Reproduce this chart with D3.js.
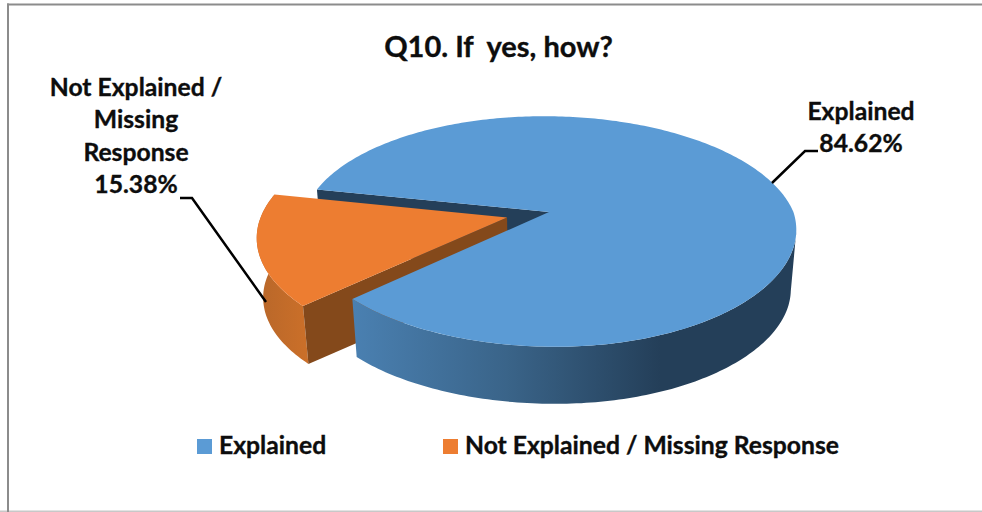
<!DOCTYPE html>
<html><head><meta charset="utf-8">
<script src="https://cdn.jsdelivr.net/npm/d3@7"></script>
<style>
html,body{margin:0;padding:0;background:#fff}
svg{display:block}
text{font-family:Lato,"Open Sans",sans-serif;font-weight:700;fill:#0d0d0d;stroke:#0d0d0d;stroke-width:0.35px;white-space:pre}
</style></head><body>
<svg id="c" width="982" height="512"></svg>
<script>
const categories = ["Explained", "Not Explained / Missing Response"];
const values = [84.62, 15.38];
const valueLabels = ["84.62%", "15.38%"];
const colors = ["#5b9bd5", "#ed7d31"];
const titleText = "Q10. If  yes, how?";

const W = 982, H = 512;
const svg = d3.select("#c");
const defs = svg.append("defs");
const deg = Math.PI / 180;

// frame
svg.append("rect").attr("x",0).attr("y",510.5).attr("width",W).attr("height",1.5).attr("fill","#c8c8c8");
svg.append("rect").attr("x",7).attr("y",3.5).attr("width",W-7).attr("height",2).attr("fill","#8c8c8c");
svg.append("rect").attr("x",7).attr("y",3.5).attr("width",2).attr("height",H-3.5).attr("fill","#8c8c8c");

// pie geometry, in a perspective projection of a tilted disc
const cx = 549, cy = 212, R = 244.4, RK = 112, P = 0.169, shear = 0.05, skew = 10;
const lowerScale = 0.978, lowerY = 60, explodeBy = 0.178;
const pie = d3.pie().sort(null).startAngle(282*deg).endAngle((282+360)*deg);
const arcs = pie(values);

function project(u, v, lower) {
  const s = 1 / (1 - P * v), k = lower ? lowerScale : 1;
  const dy = RK * k * v * s;
  return [cx + R * k * u * s + shear * dy - skew * Math.max(u, 0) * Math.max(v, 0),
          cy + (lower ? lowerY : 0) + dy];
}
function rimPoint(th, off, lower) {
  return project(Math.sin(th) + off[0], -Math.cos(th) + off[1], lower);
}
function offsetOf(a, amount) {
  const m = (a.startAngle + a.endAngle) / 2;
  return [Math.sin(m) * amount, -Math.cos(m) * amount];
}
const line = d3.line();
function sample(a0, a1) {
  const n = Math.max(8, Math.ceil(Math.abs(a1 - a0) / deg));
  return d3.range(n + 1).map(i => a0 + (a1 - a0) * i / n);
}
function topPath(a, off) {
  const pts = [project(off[0], off[1], false)].concat(sample(a.startAngle, a.endAngle).map(t => rimPoint(t, off, false)));
  return line(pts) + "Z";
}
function sidePath(a0, a1, off) {
  const s = sample(a0, a1);
  const pts = s.map(t => rimPoint(t, off, false)).concat(s.slice().reverse().map(t => rimPoint(t, off, true)));
  return line(pts) + "Z";
}
function wallPath(th, off) {
  const pts = [project(off[0], off[1], false), rimPoint(th, off, false), rimPoint(th, off, true), project(off[0], off[1], true)];
  return line(pts) + "Z";
}
function grad(id, x1, x2, stops) {
  const g = defs.append("linearGradient").attr("id", id).attr("gradientUnits","userSpaceOnUse")
    .attr("x1", x1).attr("x2", x2).attr("y1", 0).attr("y2", 0);
  stops.forEach(s => g.append("stop").attr("offset", s[0]).attr("stop-color", s[1]));
}
grad("blueSide", 353, 660, [[0,"#4a80b1"],[0.5,"#3a6489"],[1,"#243f59"]]);
grad("orangeSide", 258, 310, [[0,"#b8672a"],[1,"#cc7029"]]);

const blue = arcs[0], orange = arcs[1];
const none = [0, 0], orangeOff = offsetOf(orange, explodeBy);
const silhouetteAngle = Math.acos(-P);
const g = svg.append("g");

// back wall of the blue slice
g.append("path").attr("d", wallPath(blue.startAngle, none)).attr("fill", "#243f59");
// orange slice
g.append("path").attr("d", sidePath(orange.startAngle, orange.endAngle, orangeOff)).attr("fill", "url(#orangeSide)");
g.append("path").attr("d", wallPath(orange.startAngle, orangeOff)).attr("fill", "#84491b");
g.append("path").attr("d", topPath(orange, orangeOff)).attr("fill", colors[1]);
// blue slice
g.append("path").attr("d", sidePath(blue.endAngle - 360*deg, silhouetteAngle, none)).attr("fill", "url(#blueSide)");
g.append("path").attr("d", topPath(blue, none)).attr("fill", colors[0]);

// leader lines
const leader = d3.line();
const leaders = [[[772,183],[805,151],[818,151]], [[180,198],[192,198],[266,302]]];
svg.selectAll("path.leader").data(leaders).join("path").attr("class","leader")
  .attr("d", d => leader(d)).attr("fill","none").attr("stroke","#000").attr("stroke-width",2.5);

// title
const FS = 24.7;
svg.append("text").attr("x",498.5).attr("y",57).attr("text-anchor","middle").attr("font-size",29).text(titleText);

// data labels
function block(x, y0, lines) {
  lines.forEach((l, i) => svg.append("text").attr("x", x).attr("y", y0 + i * 32.3)
    .attr("text-anchor","middle").attr("font-size",FS).text(l));
}
block(861, 120, [categories[0], valueLabels[0]]);
block(136, 96, ["Not Explained /", "Missing", "Response", valueLabels[1]]);

// legend
const legendX = [197, 443];
categories.forEach((c, i) => {
  svg.append("rect").attr("x", legendX[i]).attr("y",439).attr("width",15).attr("height",15).attr("fill",colors[i]);
  svg.append("text").attr("x", legendX[i] + 22).attr("y",454).attr("font-size",FS).text(c);
});
</script>
</body></html>
